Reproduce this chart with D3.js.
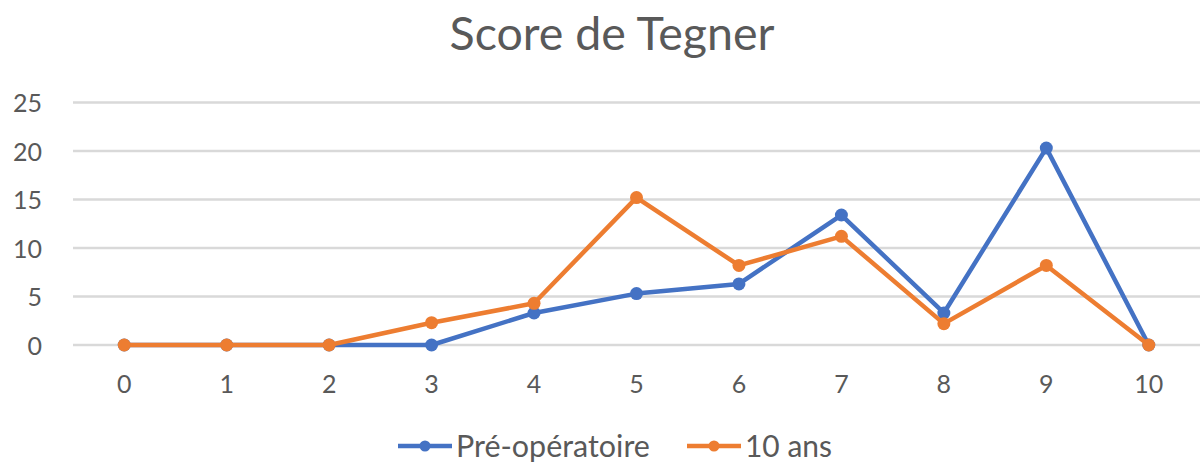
<!DOCTYPE html>
<html>
<head>
<meta charset="utf-8">
<script src="https://cdn.jsdelivr.net/npm/d3@7"></script>
<style>
  html, body { margin: 0; padding: 0; background: #fff; }
  svg { display: block; }
  text { font-family: Lato, "Open Sans", sans-serif; fill: #595959; }
</style>
</head>
<body>
<svg id="chart" width="1201" height="463"></svg>
<script>
// Tegner activity score distribution (%), before surgery and at 10 years
const scores = [0, 1, 2, 3, 4, 5, 6, 7, 8, 9, 10];
const preOp = [0, 0, 0, 0, 3.3, 5.3, 6.3, 13.4, 3.3, 20.3, 0];
const tenYears = [0, 0, 0, 2.3, 4.3, 15.2, 8.2, 11.2, 2.2, 8.2, 0];
const yTicks = [0, 5, 10, 15, 20, 25];
const seriesNames = ["Pré-opératoire", "10 ans"];
const colors = ["#4472C4", "#ED7D31"];
const title = "Score de Tegner";

const svg = d3.select("#chart");
const plotLeft = 73, plotRight = 1200, plotTop = 102.5, plotBottom = 345;

const x = d3.scaleBand().domain(scores).range([plotLeft, plotRight]);
const y = d3.scaleLinear().domain([0, 25]).range([plotBottom, plotTop]);
const cx = d => x(d) + x.bandwidth() / 2;

// Fit a text element to a target width by adjusting its font size
function fitWidth(sel, target) {
  const node = sel.node();
  const fs = parseFloat(sel.attr("font-size"));
  const w = node.getComputedTextLength();
  sel.attr("font-size", (fs * target / w).toFixed(2));
}

// Title
svg.append("text")
  .attr("x", 612).attr("y", 50)
  .attr("text-anchor", "middle")
  .attr("font-size", 40)
  .text(title)
  .call(fitWidth, 325);

// Horizontal gridlines
svg.append("g")
  .selectAll("line")
  .data(yTicks)
  .join("line")
  .attr("x1", plotLeft).attr("x2", plotRight)
  .attr("y1", d => y(d)).attr("y2", d => y(d))
  .attr("stroke", "#D9D9D9")
  .attr("stroke-width", 2.5);

// Y axis labels
const yAxis = d3.axisLeft(y).tickValues(yTicks).tickSize(0).tickPadding(0);
const gy = svg.append("g").attr("transform", "translate(42,0)").call(yAxis);
gy.select(".domain").remove();
gy.selectAll("text")
  .attr("font-size", 25)
  .attr("fill", "#595959")
  .attr("font-family", "Lato, sans-serif")
  .attr("dy", "0.36em");

// X axis labels
const xAxis = d3.axisBottom(x).tickSize(0).tickPadding(0);
const gx = svg.append("g").attr("transform", "translate(0,375)").call(xAxis);
gx.select(".domain").remove();
gx.selectAll("text")
  .attr("font-size", 25)
  .attr("fill", "#595959")
  .attr("font-family", "Lato, sans-serif")
  .attr("dy", "0.71em");

// Series lines and markers (orange drawn last, on top)
const line = d3.line().x((d, i) => cx(scores[i])).y(d => y(d));
[preOp, tenYears].forEach((vals, k) => {
  const g = svg.append("g");
  g.append("path")
    .datum(vals)
    .attr("d", line)
    .attr("fill", "none")
    .attr("stroke", colors[k])
    .attr("stroke-width", 4.5)
    .attr("stroke-linejoin", "round");
  g.selectAll("circle")
    .data(vals)
    .join("circle")
    .attr("cx", (d, i) => cx(scores[i]))
    .attr("cy", d => y(d))
    .attr("r", 6.5)
    .attr("fill", colors[k]);
});

// Legend
const legendItems = [
  { x: 398, w: 194 },
  { x: 687, w: 87 }
];
legendItems.forEach((p, k) => {
  const g = svg.append("g").attr("transform", `translate(${p.x},446)`);
  g.append("line").attr("x1", 0).attr("x2", 54).attr("y1", 0).attr("y2", 0)
    .attr("stroke", colors[k]).attr("stroke-width", 4.5);
  g.append("circle").attr("cx", 27).attr("cy", 0).attr("r", 5.5).attr("fill", colors[k]);
  g.append("text").attr("x", 58).attr("y", 0).attr("dy", "0.36em")
    .attr("font-size", 25)
    .text(seriesNames[k])
    .call(fitWidth, p.w);
});
</script>
</body>
</html>
